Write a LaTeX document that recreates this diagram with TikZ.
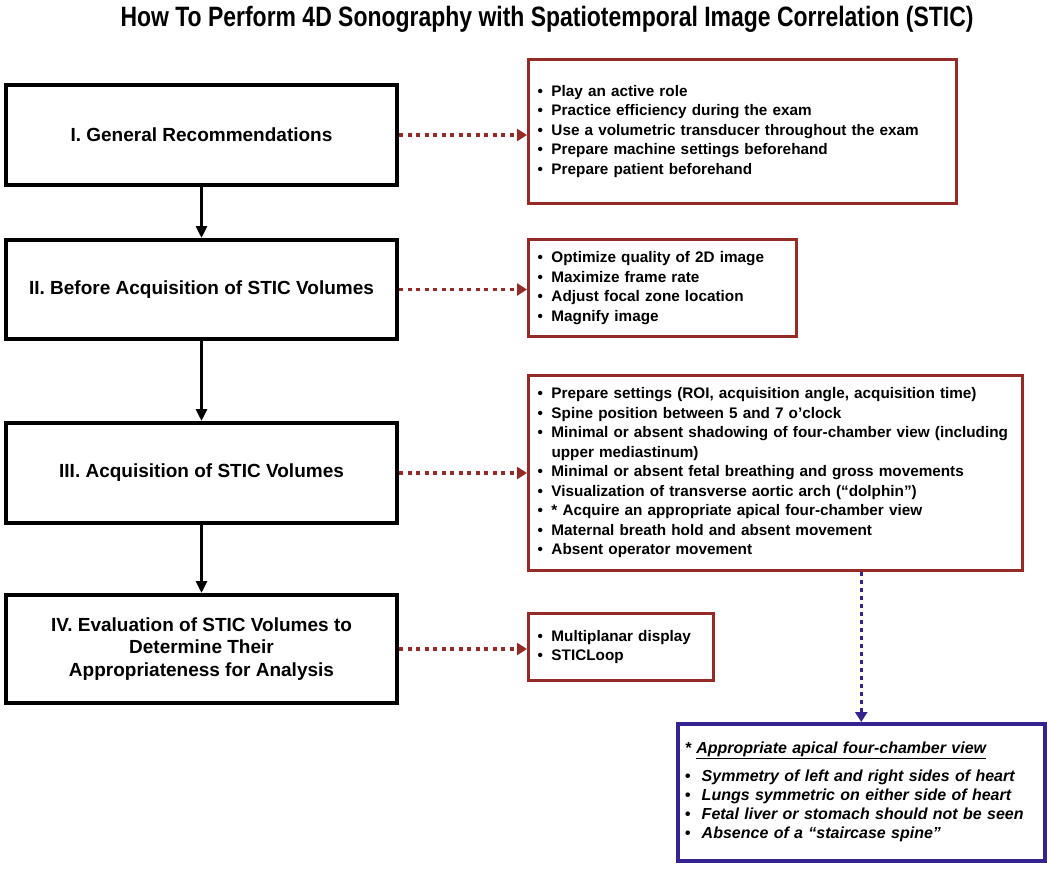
\documentclass[tikz,border=0pt]{standalone}
\usepackage{fontspec}
\usepackage{tikz}
\usetikzlibrary{arrows.meta}
\setmainfont{Liberation Sans}
\newfontfamily\titlefont[FakeStretch=0.82]{Liberation Sans}
\definecolor{boxred}{RGB}{150,42,38}
\definecolor{boxblue}{RGB}{52,36,146}
\newcommand{\bl}{\makebox[14pt][l]{\textbullet}}

\tikzset{
  stepbox/.style={draw=black,line width=4pt,align=center,anchor=north west,
    font=\bfseries\fontsize{19}{22.8}\selectfont},
  listbox/.style={draw=boxred,line width=3pt,align=left,anchor=north west,
    inner xsep=9pt,font=\bfseries\fontsize{15.3}{19.5}\selectfont},
  viewbox/.style={draw=boxblue,line width=3.5pt,align=left,anchor=north west,
    inner xsep=7pt,font=\bfseries\itshape\fontsize{16}{19.3}\selectfont},
  flowarrow/.style={line width=3pt,-{Triangle[length=12pt,width=11pt]}},
  redarrow/.style={boxred,line width=3.5pt,dash pattern=on 4pt off 4.5pt,
    -{Triangle[length=10pt,width=12pt]}},
  bluearrow/.style={boxblue,line width=3pt,dash pattern=on 3.5pt off 4.5pt,
    -{Triangle[length=10pt,width=12pt]}}
}

\begin{document}
\begin{tikzpicture}[x=1pt,y=-1pt]
            \useasboundingbox (0,0) rectangle (1050,868);

            \node (title) at (547,19) {\titlefont\bfseries\fontsize{28}{32}\selectfont How To Perform 4D Sonography with Spatiotemporal Image Correlation (STIC)};

            \node[stepbox,minimum width=391pt,minimum height=100pt] (rec) at (4,83) {I. General Recommendations};
            \node[stepbox,minimum width=391pt,minimum height=99pt] (bef) at (4,238) {II. Before Acquisition of STIC Volumes};
            \node[stepbox,minimum width=391pt,minimum height=100pt] (acq) at (4,421) {III. Acquisition of STIC Volumes};
            \node[stepbox,minimum width=391pt,minimum height=108pt] (eva) at (4,593) {IV. Evaluation of STIC Volumes to\\Determine Their\\Appropriateness for Analysis};

            \node[listbox,text width=410pt,minimum height=144pt] (recpts) at (527,58) {\bl Play an active role\\\bl Practice efficiency during the exam\\\bl Use a volumetric transducer throughout the exam\\\bl Prepare machine settings beforehand\\\bl Prepare patient beforehand};
            \node[listbox,text width=250pt,minimum height=97pt] (befpts) at (527,238) {\bl Optimize quality of 2D image\\\bl Maximize frame rate\\\bl Adjust focal zone location\\\bl Magnify image};
            \node[listbox,text width=476pt,minimum height=195pt] (acqpts) at (527,374) {\bl Prepare settings (ROI, acquisition angle, acquisition time)\\\bl Spine position between 5 and 7 o'clock\\\bl Minimal or absent shadowing of four-chamber view (including\\\hspace*{14pt}upper mediastinum)\\\bl Minimal or absent fetal breathing and gross movements\\\bl Visualization of transverse aortic arch (``dolphin'')\\\bl * Acquire an appropriate apical four-chamber view\\\bl Maternal breath hold and absent movement\\\bl Absent operator movement};
            \node[listbox,text width=167pt,minimum height=67pt] (evapts) at (527,612) {\bl Multiplanar display\\\bl STICLoop};

            \node[viewbox,text width=353pt,minimum height=137pt] (apical) at (676,722) {* \underline{Appropriate apical four-chamber view}\\[8pt]\makebox[17pt][l]{\textbullet}Symmetry of left and right sides of heart\\\makebox[17pt][l]{\textbullet}Lungs symmetric on either side of heart\\\makebox[17pt][l]{\textbullet}Fetal liver or stomach should not be seen\\\makebox[17pt][l]{\textbullet}Absence of a ``staircase spine''};

            \draw[flowarrow] (rec) -- (bef);
            \draw[flowarrow] (bef) -- (acq);
            \draw[flowarrow] (acq) -- (eva);

            \draw[redarrow] (rec.east) -- (rec.east -| recpts.west);
            \draw[redarrow] (bef.east) -- (bef.east -| befpts.west);
            \draw[redarrow] (acq.east) -- (acq.east -| acqpts.west);
            \draw[redarrow] (eva.east) -- (eva.east -| evapts.west);

            \draw[bluearrow] (acqpts.south -| apical.north) -- (apical.north);
        \end{tikzpicture}
\end{document}
